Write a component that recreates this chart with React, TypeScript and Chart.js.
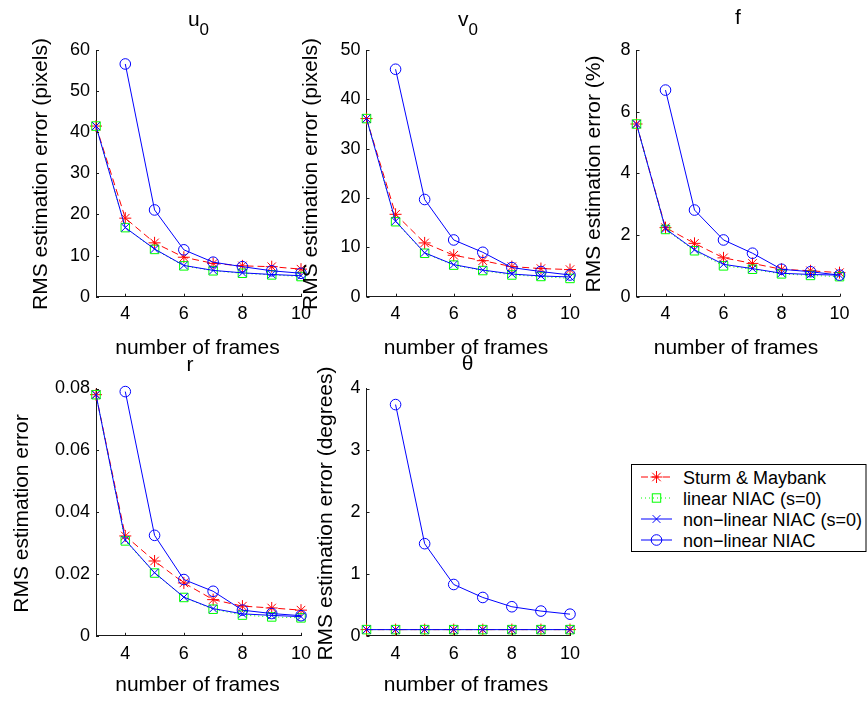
import React, { useEffect, useRef } from 'react';
import { Chart, registerables } from 'chart.js';
Chart.register(...registerables);

// ---------- data ----------
const frames = [3, 4, 5, 6, 7, 8, 9, 10];
const xTickValues = [4, 6, 8, 10];

const u0Ticks = [0, 10, 20, 30, 40, 50, 60];
const u0Sturm = [41.5, 19.1, 13.1, 9.6, 8.1, 7.5, 7.3, 6.7];
const u0Linear = [41.5, 16.8, 11.5, 7.5, 6.3, 5.7, 5.3, 4.9];
const u0NonlinS0 = [41.5, 16.8, 11.6, 7.6, 6.4, 5.8, 5.4, 5.1];
const u0Nonlin = [null, 56.6, 21.1, 11.4, 8.4, 7.3, 6.3, 5.7];

const v0Ticks = [0, 10, 20, 30, 40, 50];
const v0Sturm = [36.1, 16.7, 10.9, 8.4, 7.3, 6.1, 5.7, 5.5];
const v0Linear = [36.1, 15.2, 8.8, 6.4, 5.3, 4.4, 4.1, 3.7];
const v0NonlinS0 = [36.1, 15.3, 8.9, 6.5, 5.4, 4.6, 4.2, 4.0];
const v0Nonlin = [null, 46.1, 19.7, 11.5, 9.0, 5.9, 5.1, 4.4];

const fTicks = [0, 2, 4, 6, 8];
const fSturm = [5.6, 2.24, 1.73, 1.26, 1.08, 0.89, 0.84, 0.78];
const fLinear = [5.6, 2.18, 1.49, 1.0, 0.89, 0.74, 0.69, 0.65];
const fNonlinS0 = [5.6, 2.2, 1.52, 1.05, 0.91, 0.76, 0.72, 0.7];
const fNonlin = [null, 6.7, 2.81, 1.84, 1.41, 0.89, 0.81, 0.7];

const rTicks = [0, 0.02, 0.04, 0.06, 0.08];
const rSturm = [0.078, 0.0323, 0.0242, 0.0171, 0.0117, 0.0096, 0.009, 0.0083];
const rLinear = [0.078, 0.0307, 0.0203, 0.0124, 0.0086, 0.0067, 0.0061, 0.0058];
const rNonlinS0 = [0.078, 0.031, 0.0204, 0.0125, 0.0088, 0.0071, 0.0066, 0.0062];
const rNonlin = [null, 0.079, 0.0325, 0.0182, 0.0144, 0.0083, 0.0072, 0.0065];

const thTicks = [0, 1, 2, 3, 4];
const thSturm = [0.1, 0.1, 0.1, 0.1, 0.1, 0.1, 0.1, 0.1];
const thLinear = [0.1, 0.1, 0.1, 0.1, 0.1, 0.1, 0.1, 0.1];
const thNonlinS0 = [0.1, 0.1, 0.1, 0.1, 0.1, 0.1, 0.1, 0.1];
const thNonlin = [null, 3.74, 1.49, 0.83, 0.62, 0.47, 0.4, 0.35];

const seriesNames = ['Sturm & Maybank', 'linear NIAC (s=0)', 'non\u2212linear NIAC (s=0)', 'non\u2212linear NIAC'];

// ---------- style ----------
const FONT = '"Liberation Sans", Arial, Helvetica, sans-serif';
const RED = '#ff0000';
const GREEN = '#00ff00';
const BLUE = '#0000ff';
const AX = '#1a1a1a';
const W = 867;
const H = 702;
const YW = 60;
const XH = 40;

const panels = [
  { area: { l: 96, r: 301, t: 50, b: 296.7 }, ticks: u0Ticks, series: [u0Sturm, u0Linear, u0NonlinS0, u0Nonlin] },
  { area: { l: 366.5, r: 570, t: 50, b: 296.7 }, ticks: v0Ticks, series: [v0Sturm, v0Linear, v0NonlinS0, v0Nonlin] },
  { area: { l: 636.5, r: 839.5, t: 50, b: 296.7 }, ticks: fTicks, series: [fSturm, fLinear, fNonlinS0, fNonlin] },
  { area: { l: 96, r: 301, t: 388.5, b: 635.8 }, ticks: rTicks, series: [rSturm, rLinear, rNonlinS0, rNonlin] },
  { area: { l: 366.5, r: 570, t: 388.5, b: 635.8 }, ticks: thTicks, series: [thSturm, thLinear, thNonlinS0, thNonlin] },
];

const innerTicks = {
  id: 'innerTicks',
  afterDatasetsDraw(chart: any) {
    const { ctx, chartArea: a, scales } = chart;
    const x = scales.x;
    const y = scales.y;
    ctx.save();
    ctx.strokeStyle = AX;
    ctx.lineWidth = 1;
    ctx.beginPath();
    x.ticks.forEach((t: any) => {
      const p = Math.round(x.getPixelForValue(t.value)) + 0.5;
      ctx.moveTo(p, a.bottom);
      ctx.lineTo(p, a.bottom - 3);
    });
    y.ticks.forEach((t: any) => {
      const p = Math.round(y.getPixelForValue(t.value)) + 0.5;
      ctx.moveTo(a.left, p);
      ctx.lineTo(a.left + 3, p);
    });
    ctx.stroke();
    ctx.restore();
  },
};

function toPts(vals: (number | null)[]) {
  return frames.map((x, i) => ({ x, y: vals[i] }));
}

function Panel({ spec }: { spec: any }) {
  const ref = useRef<HTMLCanvasElement>(null);
  useEffect(() => {
    const { area, ticks, series } = spec;
    const common = { backgroundColor: 'transparent', pointBackgroundColor: 'transparent', borderWidth: 1, pointBorderWidth: 1, clip: false, tension: 0 };
    const chart = new Chart(ref.current!, {
      type: 'line',
      data: {
        datasets: [
          { ...common, label: seriesNames[0], data: toPts(series[0]), borderColor: RED, pointBorderColor: RED, borderDash: [7, 4], pointStyle: 'star', pointRadius: 6, order: 4 },
          { ...common, label: seriesNames[1], data: toPts(series[1]), borderColor: GREEN, pointBorderColor: GREEN, borderDash: [1, 3], pointStyle: 'rect', pointRadius: 6, order: 3 },
          { ...common, label: seriesNames[2], data: toPts(series[2]), borderColor: BLUE, pointBorderColor: BLUE, pointStyle: 'crossRot', pointRadius: 5.5, order: 2 },
          { ...common, label: seriesNames[3], data: toPts(series[3]), borderColor: BLUE, pointBorderColor: BLUE, pointStyle: 'circle', pointRadius: 5.3, order: 1 },
        ] as any,
      },
      options: {
        responsive: false,
        animation: false,
        devicePixelRatio: 1,
        events: [],
        layout: {
          padding: { left: area.l - YW, right: W - area.r, top: area.t, bottom: H - area.b - XH },
        },
        plugins: { legend: { display: false }, tooltip: { enabled: false }, title: { display: false } },
        scales: {
          x: {
            type: 'linear',
            min: 3,
            max: 10,
            afterBuildTicks: (s: any) => { s.ticks = xTickValues.map((v) => ({ value: v })); },
            afterFit: (s: any) => { s.height = XH; },
            grid: { drawOnChartArea: false, drawTicks: false },
            border: { display: true, color: AX, width: 1 },
            ticks: { color: '#000', font: { family: FONT, size: 18 }, padding: 7, maxRotation: 0, autoSkip: false, callback: (v: any) => String(v) },
          },
          y: {
            type: 'linear',
            min: 0,
            max: ticks[ticks.length - 1],
            afterBuildTicks: (s: any) => { s.ticks = ticks.map((v: number) => ({ value: v })); },
            afterFit: (s: any) => { s.width = YW; },
            grid: { drawOnChartArea: false, drawTicks: false },
            border: { display: true, color: AX, width: 1 },
            ticks: { color: '#000', font: { family: FONT, size: 18 }, padding: 6, autoSkip: false, callback: (v: any) => String(v) },
          },
        },
      } as any,
      plugins: [innerTicks],
    });
    return () => chart.destroy();
  }, [spec]);
  return <canvas ref={ref} width={W} height={H} style={{ position: 'absolute', left: 0, top: 0, width: W, height: H }} />;
}

function LegendMarker({ kind, cx, cy, color }: { kind: string; cx: number; cy: number; color: string }) {
  if (kind === 'star') {
    const r = 6;
    const d = r * Math.SQRT1_2;
    return (
      <g stroke={color} strokeWidth={1}>
        <line x1={cx - r} y1={cy} x2={cx + r} y2={cy} />
        <line x1={cx} y1={cy - r} x2={cx} y2={cy + r} />
        <line x1={cx - d} y1={cy - d} x2={cx + d} y2={cy + d} />
        <line x1={cx - d} y1={cy + d} x2={cx + d} y2={cy - d} />
      </g>
    );
  }
  if (kind === 'rect') return <rect x={cx - 4.2} y={cy - 4.2} width={8.4} height={8.4} fill="none" stroke={color} strokeWidth={1} />;
  if (kind === 'x') {
    const d = 3.9;
    return (
      <g stroke={color} strokeWidth={1}>
        <line x1={cx - d} y1={cy - d} x2={cx + d} y2={cy + d} />
        <line x1={cx - d} y1={cy + d} x2={cx + d} y2={cy - d} />
      </g>
    );
  }
  return <circle cx={cx} cy={cy} r={5.3} fill="none" stroke={color} strokeWidth={1} />;
}

const legendRows = [
  { color: RED, dash: '7 4', kind: 'star' },
  { color: GREEN, dash: '1 3', kind: 'rect' },
  { color: BLUE, dash: '', kind: 'x' },
  { color: BLUE, dash: '', kind: 'circle' },
];

function Overlay() {
  const yLabel = (x: number, y: number, text: string) => (
    <text transform={`translate(${x},${y}) rotate(-90)`} textAnchor="middle" fontSize={21}>{text}</text>
  );
  const xLabel = (x: number, y: number) => (
    <text x={x} y={y} textAnchor="middle" fontSize={21}>number of frames</text>
  );
  const baselines = [483.5, 504.5, 525.5, 546.5];
  return (
    <svg width={W} height={H} style={{ position: 'absolute', left: 0, top: 0, pointerEvents: 'none' }} fontFamily={FONT} fill="#000">
      {/* titles */}
      <text x={198.5} y={26} textAnchor="middle" fontSize={21}>u<tspan fontSize={17} dy={9}>0</tspan></text>
      <text x={468} y={25.5} textAnchor="middle" fontSize={21}>v<tspan fontSize={17} dy={9.5}>0</tspan></text>
      <text x={738} y={23.5} textAnchor="middle" fontSize={21}>f</text>
      <text x={190} y={370.5} textAnchor="middle" fontSize={21}>r</text>
      <text x={467.5} y={370} textAnchor="middle" fontSize={21}>θ</text>
      {/* x labels */}
      {xLabel(197.5, 353.5)}
      {xLabel(466, 353.5)}
      {xLabel(736, 353.5)}
      {xLabel(197.5, 691)}
      {xLabel(466, 691)}
      {/* y labels */}
      {yLabel(46.5, 174, 'RMS estimation error (pixels)')}
      {yLabel(316.5, 174, 'RMS estimation error (pixels)')}
      {yLabel(600, 174, 'RMS estimation error (%)')}
      {yLabel(28, 513.5, 'RMS estimation error')}
      {yLabel(331.5, 513.5, 'RMS estimation error (degrees)')}
      {/* legend */}
      <rect x={631.5} y={464.5} width={234.5} height={87} fill="#fff" stroke="#000" strokeWidth={1} />
      {legendRows.map((row, i) => {
        const cy = baselines[i] - 6.5;
        return (
          <g key={i}>
            <line x1={641} y1={cy} x2={672} y2={cy} stroke={row.color} strokeWidth={1} strokeDasharray={row.dash || undefined} />
            <LegendMarker kind={row.kind} cx={656.5} cy={cy} color={row.color} />
            <text x={683} y={baselines[i]} fontSize={18}>{seriesNames[i]}</text>
          </g>
        );
      })}
    </svg>
  );
}

export default function App() {
  return (
    <div style={{ position: 'fixed', left: 0, top: 0, width: W, height: H, background: '#fff', overflow: 'hidden' }}>
      {panels.map((p, i) => (
        <Panel key={i} spec={p} />
      ))}
      <Overlay />
    </div>
  );
}
